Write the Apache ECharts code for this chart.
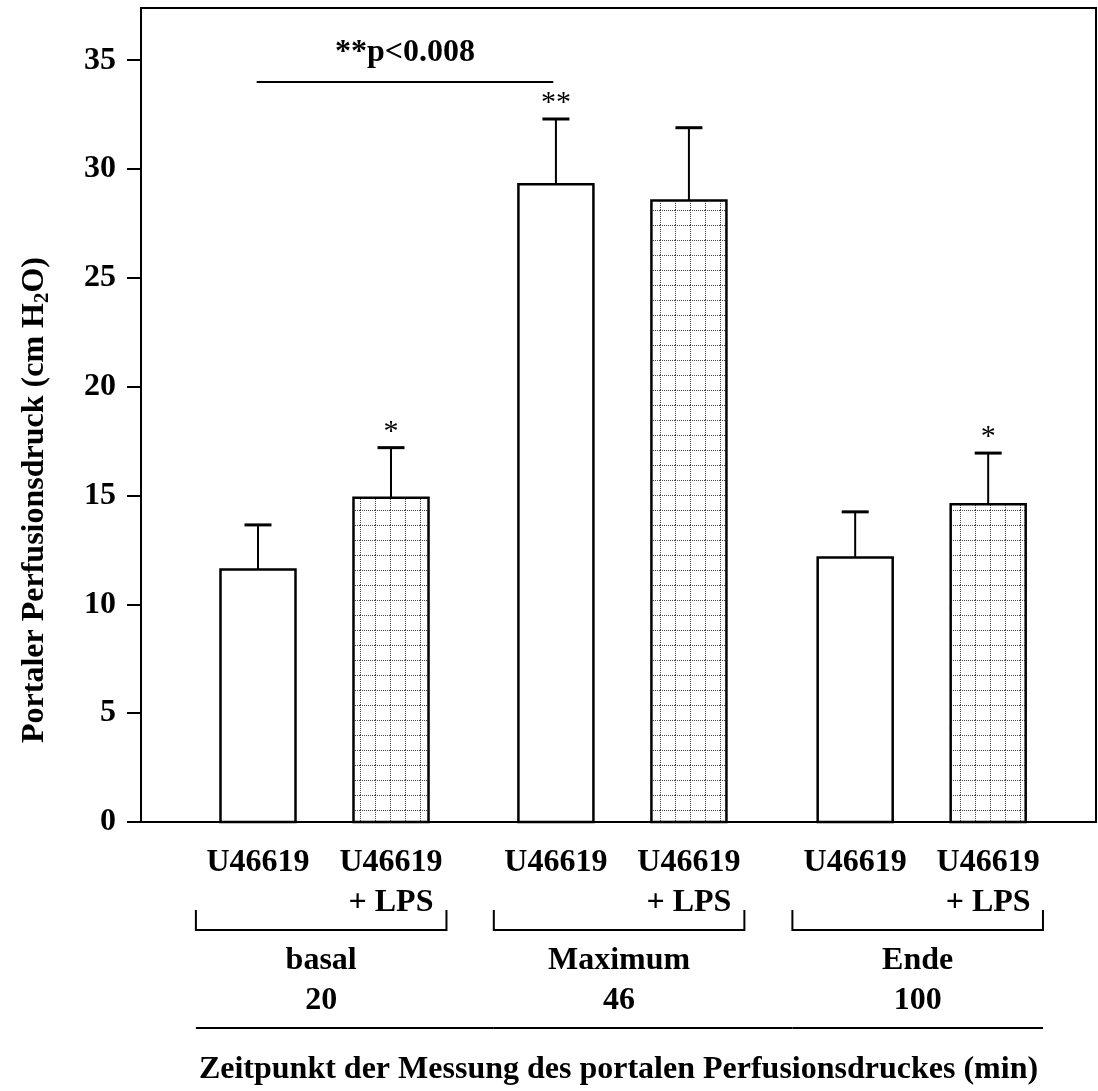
<!DOCTYPE html>
<html>
<head>
<meta charset="utf-8">
<script src="https://cdn.jsdelivr.net/npm/echarts@6/dist/echarts.min.js"></script>
<style>
  html, body { margin: 0; padding: 0; background: #fff; }
  #chart { width: 1098px; height: 1091px; }
</style>
</head>
<body>
<div id="chart"></div>
<script>
// bar data (cm H2O)
const barLabels = ['U46619', 'U46619\n+ LPS', 'U46619', 'U46619\n+ LPS', 'U46619', 'U46619\n+ LPS']
const barPositions = [1, 2, 3.24, 4.24, 5.49, 6.49]
const withLps = [false, true, false, true, false, true]
const meanValues = [11.6, 14.9, 29.3, 28.55, 12.15, 14.6]
const semValues = [2.05, 2.3, 3.0, 3.35, 2.1, 2.35]
const sigMarks = ['', '*', '**', '', '', '*']

const groupLabels = ['basal\n20', 'Maximum\n46', 'Ende\n100']
const groupPositions = [1.475, 3.715, 5.96]

const yTicks = [0, 5, 10, 15, 20, 25, 30, 35]

// significance bar between basal U46619 and maximum U46619
const compareFrom = 0.99
const compareTo = 3.22
const compareLevel = 34
const compareText = '**p<0.008'

const serif = '"Liberation Serif", "Times New Roman", serif'
const barWidth = 0.564
const bracketHalf = 0.942

// dotted grid fill for the LPS bars
const tile = document.createElement('canvas')
tile.width = 15
tile.height = 15
const tctx = tile.getContext('2d')
tctx.fillStyle = '#fff'
tctx.fillRect(0, 0, 15, 15)
tctx.fillStyle = '#444'
for (let i = 0; i < 15; i += 2) {
  tctx.fillRect(i, 0, 1, 1)
  tctx.fillRect(0, i, 1, 1)
}
const gridPattern = { image: tile, repeat: 'repeat' }

const chart = echarts.init(document.getElementById('chart'))

const option = {
  animation: false,
  backgroundColor: '#fff',
  grid: {
    left: 141, right: 2, top: 8, bottom: 261,
    show: true, borderColor: '#000', borderWidth: 2
  },
  xAxis: {
    type: 'value',
    min: 0.1203,
    max: 7.3007,
    axisLine: { show: true, lineStyle: { color: '#000', width: 2 } },
    axisTick: { show: false },
    splitLine: { show: false },
    axisLabel: {
      customValues: barPositions,
      formatter: v => {
        const i = barPositions.findIndex(p => Math.abs(p - v) < 1e-6)
        return i >= 0 ? barLabels[i] : ''
      },
      fontFamily: serif, fontWeight: 'bold', fontSize: 32, color: '#000',
      lineHeight: 40, margin: 21
    },
    name: 'Zeitpunkt der Messung des portalen Perfusionsdruckes (min)',
    nameLocation: 'middle',
    nameGap: 232,
    nameTextStyle: { fontFamily: serif, fontWeight: 'bold', fontSize: 32, color: '#000' }
  },
  yAxis: {
    type: 'value',
    min: 0,
    max: 37.4,
    axisLine: { show: true, lineStyle: { color: '#000', width: 2 } },
    axisTick: { show: true, length: 14, customValues: yTicks, lineStyle: { color: '#000', width: 2 } },
    splitLine: { show: false },
    axisLabel: {
      customValues: yTicks,
      margin: 25,
      fontFamily: serif, fontWeight: 'bold', fontSize: 32, color: '#000'
    }
  },
  graphic: [{
    type: 'text',
    x: 35,
    y: 500,
    rotation: Math.PI / 2,
    style: {
      text: '{t|Portaler Perfusionsdruck (cm H}{s|2}{t|O)}',
      align: 'center',
      verticalAlign: 'middle',
      rich: {
        t: { fontFamily: serif, fontWeight: 'bold', fontSize: 32, fill: '#000' },
        s: { fontFamily: serif, fontWeight: 'bold', fontSize: 21, fill: '#000', padding: [16, 0, 0, 0] }
      }
    }
  }],
  series: [
    {
      name: 'bars',
      type: 'custom',
      data: barPositions.map((x, i) => [x, meanValues[i], withLps[i] ? 1 : 0]),
      renderItem: (params, api) => {
        const base = api.coord([api.value(0), 0])
        const top = api.coord([api.value(0), api.value(1)])
        const w = api.size([barWidth, 0])[0]
        return {
          type: 'rect',
          shape: { x: base[0] - w / 2, y: top[1], width: w, height: base[1] - top[1] },
          style: { fill: api.value(2) ? gridPattern : '#fff', stroke: '#000', lineWidth: 2.5 }
        }
      }
    },
    {
      name: 'errors',
      type: 'custom',
      data: barPositions.map((x, i) => [x, meanValues[i], meanValues[i] + semValues[i], i]),
      renderItem: (params, api) => {
        const x = api.value(0)
        const lo = api.coord([x, api.value(1)])
        const hi = api.coord([x, api.value(2)])
        const mark = sigMarks[api.value(3)]
        const children = [
          { type: 'line', shape: { x1: lo[0], y1: lo[1], x2: hi[0], y2: hi[1] }, style: { stroke: '#000', lineWidth: 2 } },
          { type: 'line', shape: { x1: hi[0] - 13.5, y1: hi[1], x2: hi[0] + 13.5, y2: hi[1] }, style: { stroke: '#000', lineWidth: 3 } }
        ]
        if (mark) {
          children.push({
            type: 'text',
            x: hi[0],
            y: hi[1] - 1,
            style: { text: mark, font: '30px ' + serif, fill: '#000', align: 'center', verticalAlign: 'bottom' }
          })
        }
        return { type: 'group', children }
      }
    },
    {
      name: 'groups',
      type: 'custom',
      clip: false,
      data: groupPositions.map((x, i) => [x, 0, i]),
      renderItem: (params, api) => {
        const i = api.value(2)
        const c = api.coord([api.value(0), 0])
        const half = api.size([bracketHalf, 0])[0]
        const l = c[0] - half
        const r = c[0] + half
        const by = c[1] + 108
        const next = i < groupPositions.length - 1
          ? api.coord([groupPositions[i + 1], 0])[0] - half
          : r
        return {
          type: 'group',
          children: [
            {
              type: 'polyline',
              shape: { points: [[l, by - 20], [l, by], [r, by], [r, by - 20]] },
              style: { stroke: '#000', lineWidth: 2, fill: null }
            },
            {
              type: 'text',
              x: c[0],
              y: c[1] + 158.5,
              style: {
                text: groupLabels[i], font: 'bold 32px ' + serif, fill: '#000',
                align: 'center', verticalAlign: 'middle', lineHeight: 40
              }
            },
            {
              type: 'line',
              shape: { x1: l, y1: c[1] + 206, x2: next, y2: c[1] + 206 },
              style: { stroke: '#000', lineWidth: 2 }
            }
          ]
        }
      }
    },
    {
      name: 'comparison',
      type: 'custom',
      clip: false,
      data: [[compareFrom, compareLevel, compareTo]],
      renderItem: (params, api) => {
        const a = api.coord([api.value(0), api.value(1)])
        const b = api.coord([api.value(2), api.value(1)])
        return {
          type: 'group',
          children: [
            { type: 'line', shape: { x1: a[0], y1: a[1], x2: b[0], y2: b[1] }, style: { stroke: '#000', lineWidth: 2 } },
            {
              type: 'text',
              x: (a[0] + b[0]) / 2,
              y: a[1] - 29,
              style: { text: compareText, font: 'bold 32px ' + serif, fill: '#000', align: 'center', verticalAlign: 'middle' }
            }
          ]
        }
      }
    }
  ]
}

chart.setOption(option)
window.addEventListener('resize', () => chart.resize())
</script>
</body>
</html>
